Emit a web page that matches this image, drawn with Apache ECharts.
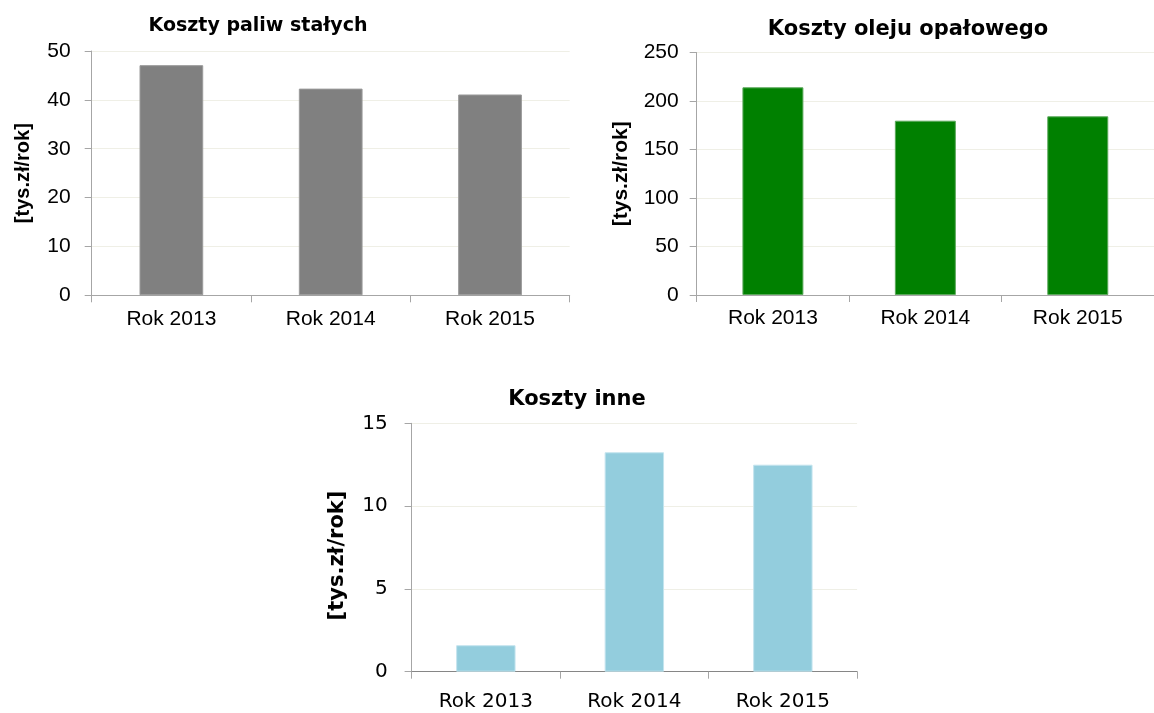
<!DOCTYPE html>
<html>
<head>
<meta charset="utf-8">
<script src="https://cdn.jsdelivr.net/npm/echarts@6/dist/echarts.min.js"></script>
<style>
html,body{margin:0;padding:0;background:#fff;}
#chart{width:1154px;height:713px;}
</style>
</head>
<body>
<div id="chart"></div>
<script>
// ---- data ----
const categories = ['Rok 2013', 'Rok 2014', 'Rok 2015'];
const solidFuelCosts = [47.1, 42.3, 41.1];
const heatingOilCosts = [214.1, 179.7, 184.2];
const otherCosts = [1.6, 13.25, 12.5];
const titles = ['Koszty paliw stałych', 'Koszty oleju opałowego', 'Koszty inne'];
const unitLabel = '[tys.zł/rok]';
const yMax = [50, 250, 15];
const yStep = [10, 50, 5];

const ARIAL = '"Liberation Sans", Arial, sans-serif';
const TAHOMA = '"DejaVu Sans", Verdana, sans-serif';
const gridColor = '#efefe6';

function yAxis(i, font, fs, nameFs, labelMargin, nameGap, lineColor, namePad) {
  return {
    type: 'value', gridIndex: i, min: 0, max: yMax[i], interval: yStep[i],
    name: unitLabel, nameLocation: 'middle', nameRotate: 90, nameGap: nameGap,
    nameTextStyle: {fontFamily: i === 2 ? TAHOMA : ARIAL, fontWeight: 'bold', fontSize: nameFs, color: '#000', padding: namePad},
    axisLine: {show: true, lineStyle: {color: lineColor, width: 1}},
    axisTick: {show: true, length: 7, lineStyle: {color: lineColor}},
    axisLabel: {fontFamily: font, fontSize: fs, color: '#000', margin: labelMargin},
    splitLine: {show: true, lineStyle: {color: gridColor, width: 1}}
  };
}
function xAxis(i, font, fs, margin, lineColor) {
  return {
    type: 'category', gridIndex: i, data: categories, boundaryGap: true,
    axisLine: {show: true, lineStyle: {color: lineColor, width: 1}},
    axisTick: {show: true, length: 7, alignWithLabel: false, lineStyle: {color: '#a6a6a6'}},
    axisLabel: {fontFamily: font, fontSize: fs, color: '#000', margin: margin}
  };
}
function bar(i, data, color, border) {
  return {
    type: 'bar', xAxisIndex: i, yAxisIndex: i, data: data, barWidth: '40%',
    itemStyle: {color: color, borderColor: border, borderWidth: 1},
    animation: false
  };
}

const chart = echarts.init(document.getElementById('chart'), null, {renderer: 'canvas'});
chart.setOption({
  animation: false,
  backgroundColor: '#fff',
  title: [
    {text: titles[0], left: 253, top: 12, textAlign: 'center',
     textStyle: {fontFamily: TAHOMA, fontWeight: 'bold', fontSize: 19, color: '#000'}},
    {text: titles[1], left: 903, top: 14, textAlign: 'center',
     textStyle: {fontFamily: TAHOMA, fontWeight: 'bold', fontSize: 21, color: '#000'}},
    {text: titles[2], left: 572, top: 384, textAlign: 'center',
     textStyle: {fontFamily: TAHOMA, fontWeight: 'bold', fontSize: 21, color: '#000'}}
  ],
  grid: [
    {left: 91.7, top: 51, width: 478, height: 244.3},
    {left: 696.7, top: 52.5, width: 469.5, height: 242.5},
    {left: 411.6, top: 423.3, width: 445.5, height: 248.4}
  ],
  xAxis: [
    xAxis(0, ARIAL, 21, 13, '#a6a6a6'),
    xAxis(1, ARIAL, 21, 13, '#a6a6a6'),
    xAxis(2, TAHOMA, 20, 20, '#868686')
  ],
  yAxis: [
    yAxis(0, ARIAL, 21, 20, 21, 58, '#a6a6a6', [0, 0, 0, 0]),
    yAxis(1, ARIAL, 21, 21, 18, 65, '#a6a6a6', [0, 0, 0, 0]),
    yAxis(2, TAHOMA, 20, 21, 24, 64, '#a6a6a6', [0, 16, 0, 0])
  ],
  series: [
    bar(0, solidFuelCosts, '#808080', '#9a9a9a'),
    bar(1, heatingOilCosts, '#008000', '#5aa85a'),
    bar(2, otherCosts, '#93cddd', '#c4e4ee')
  ]
});
</script>
</body>
</html>
